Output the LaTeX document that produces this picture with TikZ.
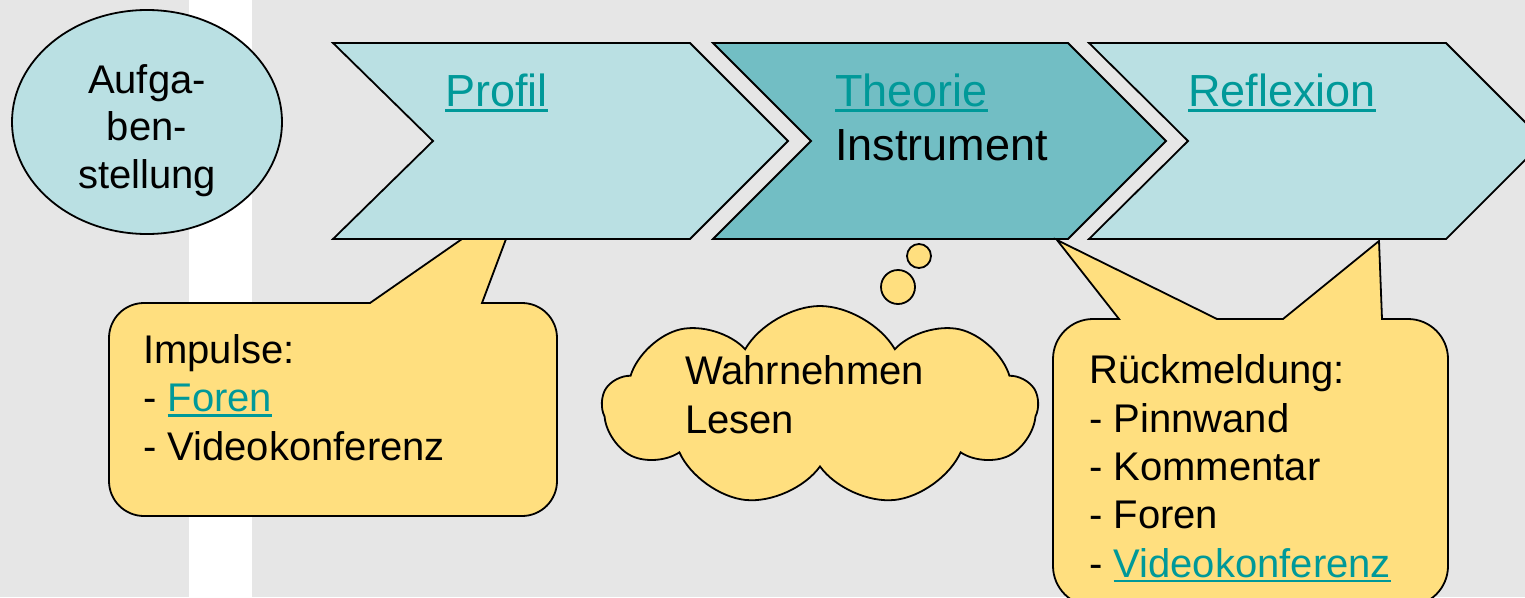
\documentclass[tikz,border=0pt]{standalone}
\usepackage{fontspec}
\setmainfont{Liberation Sans}
\usetikzlibrary{shapes.symbols,shapes.geometric}
\definecolor{bgc}{HTML}{E6E6E6}
\definecolor{light}{HTML}{BAE0E3}
\definecolor{dark}{HTML}{72BEC4}
\definecolor{yel}{HTML}{FFDF7F}
\definecolor{linkc}{HTML}{009999}
\newcommand\lnk[1]{{\color{linkc}\setbox0\hbox{#1}\rlap{\rule[-0.13em]{\wd0}{0.065em}}\box0}}
\begin{document}
\begin{tikzpicture}[x=1pt,y=-1pt,
  outl/.style={draw=black, line width=1.8pt, line join=miter},
  big/.style={font=\fontsize{45}{54}\selectfont, inner sep=0pt},
  mid/.style={font=\fontsize{40}{48.3}\selectfont, inner sep=0pt}]
\useasboundingbox (0,0) rectangle (1525,597);
\clip (0,0) rectangle (1525,597);
\fill[bgc] (0,0) rectangle (1525,597);
\fill[white] (189,0) rectangle (252,597);
% ellipse
\node[ellipse, outl, fill=light, minimum width=270pt, minimum height=224pt] (aufg) at (147,122) {};
\node[mid, anchor=base, align=center, font=\fontsize{40}{47.7}\selectfont] (taufg) at (147,188.5) {Aufga-\\ben-\\stellung};
% chevrons
\draw[outl, fill=light] (333,43) -- (690,43) -- (788,141) -- (690,239) -- (333,239) -- (433,141) -- cycle;
\draw[outl, fill=dark] (713,43) -- (1068,43) -- (1166,141) -- (1068,239) -- (713,239) -- (811,141) -- cycle;
\draw[outl, fill=light] (1089,43) -- (1446,43) -- (1544,141) -- (1446,239) -- (1089,239) -- (1188,141) -- cycle;
\node[big, anchor=base west] (tprofil) at (445,106) {\lnk{Profil}};
\node[big, anchor=base west, align=left] (ttheorie) at (835,160) {\lnk{Theorie}\\Instrument};
\node[big, anchor=base west] (treflexion) at (1188,106) {\lnk{Reflexion}};
% callout 1
\draw[outl, fill=yel] (144,303) -- (370,303) -- (462,239) -- (506,239) -- (482,303) -- (522,303)
  arc[start angle=-90,end angle=0,radius=35] -- (557,481)
  arc[start angle=0,end angle=90,radius=35] -- (144,516)
  arc[start angle=90,end angle=180,radius=35] -- (109,338)
  arc[start angle=180,end angle=270,radius=35] -- cycle;
\node[mid, anchor=base west, align=left] (timp) at (143,460) {Impulse:\\- \lnk{Foren}\\- Videokonferenz};
% cloud
\node[cloud, outl, fill=yel, cloud puffs=9, cloud puff arc=120, aspect=2.2, minimum width=435pt, minimum height=200pt] (cloud) at (820,406) {};
\node[circle, outl, fill=yel, minimum size=24pt, inner sep=0pt] (b1) at (919,256) {};
\node[circle, outl, fill=yel, minimum size=34pt, inner sep=0pt] (b2) at (898,287) {};
\node[mid, anchor=base west, align=left] (tcloud) at (685,433) {Wahrnehmen\\Lesen};
% callout 2
\draw[outl, fill=yel] (1093,319) -- (1119,319) -- (1057,240) -- (1217,319) -- (1283,319) -- (1379,241) -- (1382,319) -- (1408,319)
  arc[start angle=-90,end angle=0,radius=40] -- (1448,566)
  arc[start angle=0,end angle=90,radius=40] -- (1093,606)
  arc[start angle=90,end angle=180,radius=40] -- (1053,359)
  arc[start angle=180,end angle=270,radius=40] -- cycle;
\node[mid, anchor=base west, align=left] (tfb) at (1089,577) {R\"uckmeldung:\\- Pinnwand\\- Kommentar\\- Foren\\- \lnk{Videokonferenz}};
\end{tikzpicture}
\end{document}
